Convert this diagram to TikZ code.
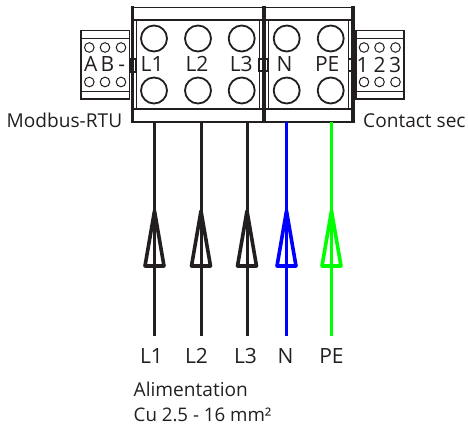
\documentclass[tikz,border=0pt]{standalone}
\usepackage{fontspec}
\setmainfont{Open Sans}
\usepackage{xcolor}
\definecolor{ink}{HTML}{231F20}
\definecolor{wireblue}{HTML}{0000FF}
\definecolor{wiregreen}{HTML}{00FF00}
\tikzset{
  txt/.style={text=ink,inner sep=0pt,anchor=base,font=\fontsize{21}{23}\selectfont},
  lbl/.style={text=ink,inner sep=0pt,anchor=base west,font=\fontsize{19.1}{21}\selectfont},
  thinline/.style={draw=ink,line width=0.8pt},
  midline/.style={draw=ink,line width=1.5pt},
  band/.style={draw=ink,line width=2.2pt},
  bar/.style={draw=ink,line width=#1},
  hole/.style={draw=ink,line width=1.8pt},
  smallhole/.style={draw=ink,line width=1pt},
  wire/.style={line width=3pt,line join=round,draw=#1},
  tip/.style={line width=3.6pt,line join=round,draw=#1},
}
\begin{document}
\begin{tikzpicture}[x=1pt,y=-1pt]
\useasboundingbox (0,0) rectangle (468,425);
% housing
\draw [midline] (132.5,7.5) rectangle (353,122);
\draw [bar=2.8pt] (132.7,6.5) -- (132.7,123);
\draw [bar=4.5pt] (264,6.5) -- (264,123);
\draw [bar=4pt] (353,6.5) -- (353,123);
\draw [band] (132,20) -- (353,20);
\draw [band] (132,109) -- (353,109);
\draw [thinline] (136,20) -- (136,109);
\draw [thinline] (259.5,20) -- (259.5,109);
\draw [thinline] (268,20) -- (268,109);
\draw [thinline] (348.5,20) -- (348.5,109);
% clips
\draw [midline] (130.5,59) rectangle (136,72);
\draw [midline] (259,59) rectangle (268,71);
\draw [midline] (348.5,59) rectangle (355,71);
% terminals
\draw [hole] (154,38.5) circle (13);
\draw [hole] (198,38.5) circle (13);
\draw [hole] (241.7,38.5) circle (13);
\draw [hole] (286.7,38.5) circle (13);
\draw [hole] (330.7,38.5) circle (13);
\draw [hole] (154,90.5) circle (13);
\draw [hole] (198,90.5) circle (13);
\draw [hole] (241.7,90.5) circle (13);
\draw [hole] (286.7,90.5) circle (13);
\draw [hole] (330.7,90.5) circle (13);
%
\node [txt] (termL1) at (152.2,71.7) {L1};
\node [txt] (termL2) at (197,71.7) {L2};
\node [txt] (termL3) at (241.2,71.7) {L3};
\node [txt] (termN) at (284.5,71.7) {N};
\node [txt] (termPE) at (327.2,71.7) {PE};
% modbus connector
\draw [midline] (81,30.5) rectangle (129.5,99);
\draw [midline] (81,38.5) -- (129.5,38.5);
\draw [midline] (81,91.5) -- (129.5,91.5);
\draw [smallhole] (89.3,47.5) circle (4.8);
\draw [smallhole] (105,47.5) circle (4.8);
\draw [smallhole] (121,47.5) circle (4.8);
\draw [smallhole] (89.3,82) circle (4.8);
\draw [smallhole] (105,82) circle (4.8);
\draw [smallhole] (121,82) circle (4.8);
\node [txt] (portA) at (90.7,71.7) {A};
\node [txt] (portB) at (107.5,71.7) {B};
\node [txt] (portdash) at (121.7,71.7) {-};
% dry contact connector
\draw [midline] (356,30.5) rectangle (404,99);
\draw [midline] (356,38.5) -- (404,38.5);
\draw [midline] (356,91.5) -- (404,91.5);
\draw [smallhole] (364,47.5) circle (4.8);
\draw [smallhole] (379.5,47.5) circle (4.8);
\draw [smallhole] (395.5,47.5) circle (4.8);
\draw [smallhole] (364,82) circle (4.8);
\draw [smallhole] (379.5,82) circle (4.8);
\draw [smallhole] (395.5,82) circle (4.8);
\node [txt] (port1) at (362.7,72.2) {1};
\node [txt] (port2) at (379.5,72.2) {2};
\node [txt] (port3) at (395,72.2) {3};
% side labels
\node [lbl] (modbus) at (6.5,127.7) {Modbus-RTU};
\node [lbl] (contact) at (363,127.7) {Contact sec};
% feed labels
\node [txt] (feedL1) at (151.5,363.3) {L1};
\node [txt] (feedL2) at (196.5,363.3) {L2};
\node [txt] (feedL3) at (245.5,363.3) {L3};
\node [txt] (feedN) at (285.5,363.3) {N};
\node [txt] (feedPE) at (331.5,363.3) {PE};
\node [lbl] (alim) at (133.5,396) {Alimentation};
\node [lbl,font=\fontsize{18.7}{21}\selectfont] (section) at (133.5,421.5) {Cu 2.5 - 16 mm²};
% wires
\coordinate (topL1) at (154.5,122);
\coordinate (topL2) at (201,122);
\coordinate (topL3) at (247,122);
\coordinate (topN) at (286.5,122);
\coordinate (topPE) at (331.5,122);
\coordinate (endL1) at (154.5,336);
\coordinate (endL2) at (201,336);
\coordinate (endL3) at (247,336);
\coordinate (endN) at (286.5,336);
\coordinate (endPE) at (331.5,336);
\draw [wire=ink] (topL1) -- (endL1);
\draw [wire=ink] (topL2) -- (endL2);
\draw [wire=ink] (topL3) -- (endL3);
\draw [wire=wireblue] (topN) -- (endN);
\draw [wire=wiregreen] (topPE) -- (endPE);
% arrows
\draw [tip=ink] (154.5,211) -- (164,266) -- (145,266) -- cycle;
\draw [tip=ink] (201,211) -- (210.5,266) -- (191.5,266) -- cycle;
\draw [tip=ink] (247,211) -- (256.5,266) -- (237.5,266) -- cycle;
\draw [tip=wireblue] (286.5,211) -- (296,266) -- (277,266) -- cycle;
\draw [tip=wiregreen] (331.5,211) -- (341,266) -- (322,266) -- cycle;
\end{tikzpicture}
\end{document}
